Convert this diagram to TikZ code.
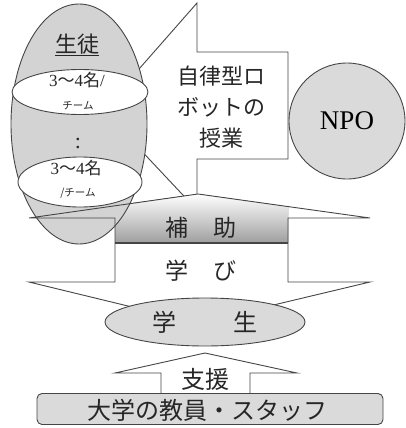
\documentclass[tikz,border=0pt]{standalone}
\usepackage{fontspec}
\usetikzlibrary{shapes.geometric}
\setmainfont{Liberation Serif}
\newfontfamily\jp{Noto Sans CJK JP}
\definecolor{ln}{HTML}{454545}
\definecolor{fillg}{HTML}{D3D3D3}
\definecolor{fillb}{HTML}{DADADA}
\tikzset{
  outl/.style={draw=ln, line width=0.9pt, line join=miter},
  jt/.style={font=\jp, inner sep=0pt, text=black!85},
}
\begin{document}
\begin{tikzpicture}[x=1pt,y=-1pt]
\useasboundingbox (0,0) rectangle (405,428);
% callout
\filldraw[outl, fill=white] (103,110) -- (197,3) -- (197,52) -- (288,52) -- (288,159) -- (197,159) -- (197,210) -- cycle;
\node[jt, font=\jp\fontsize{22}{31}\selectfont, align=center] (lesson) at (221,107) {自律型ロ\\ボットの\\授業};
% big double arrow: white fill
\fill[white] (29,218) -- (198,194) -- (370,218) -- (288,218) -- (288,282) -- (370,282) -- (198,323) -- (29,282) -- (115,282) -- (115,218) -- cycle;
% gradient band
\fill[top color=white, bottom color=black!38] (115,218) -- (115,205.6) -- (198,194) -- (288,206.6) -- (288,243) -- (115,243) -- cycle;
% egg
\filldraw[outl, fill=fillg] (79,124) ellipse [x radius=68, y radius=120];
\filldraw[outl, fill=white] (80,92) ellipse [x radius=68, y radius=22.5];
\filldraw[outl, fill=white] (80,182) ellipse [x radius=62, y radius=25];
\node[jt, font=\jp\fontsize{22}{22}\selectfont] (seito) at (77,45) {\underline{生徒}};
\node[jt, font=\fontsize{17}{17}\selectfont] (t1a) at (77,80) {3{\jp ～}4{\jp 名}/};
\node[jt, font=\jp\fontsize{10.5}{10.5}\selectfont] (t1b) at (78,106) {チーム};
\node[jt, font=\fontsize{22}{22}\selectfont] (dots) at (78,143) {:};
\node[jt, font=\fontsize{17}{17}\selectfont] (t2a) at (76,168) {3{\jp ～}4{\jp 名}};
\node[jt, font=\jp\fontsize{10.5}{10.5}\selectfont] (t2b) at (78,193) {/チーム};
% big arrow outline on top
\draw[outl] (29,218) -- (198,194) -- (370,218) -- (288,218) -- (288,282) -- (370,282) -- (198,323) -- (29,282) -- (115,282) -- (115,218) -- cycle;
\draw[ln, line width=2pt] (115,243) -- (288,243);
\node[jt, font=\jp\fontsize{23}{23}\selectfont] (hojo) at (201,228) {補\hspace{26pt}助};
\node[jt, font=\jp\fontsize{23}{23}\selectfont] (manabi) at (201,271) {学\hspace{25pt}び};
% NPO
\node[outl, fill=fillb, circle, minimum size=116pt, inner sep=0pt, font=\fontsize{27}{27}\selectfont] (npo) at (347,121) {NPO};
% gakusei
\node[outl, fill=fillb, ellipse, minimum width=200pt, minimum height=48pt, inner sep=0pt] (gakusei) at (205,322) {};
\node[jt, font=\jp\fontsize{24}{24}\selectfont] (gakuseit) at (gakusei) {学\hspace{58pt}生};
% support arrow
\filldraw[outl, fill=white] (161,394) -- (161,373) -- (115,373) -- (205,353) -- (297,373) -- (250,373) -- (250,394);
\node[jt, font=\jp\fontsize{24}{24}\selectfont] (shien) at (205,379) {支援};
% bottom box
\node[outl, fill=fillb, rounded corners=5pt, minimum width=346pt, minimum height=31pt, inner sep=0pt] (staff) at (210,409) {};
\node[jt, font=\jp\fontsize{24}{24}\selectfont] (stafft) at (207,410) {大学の教員・スタッフ};
\end{tikzpicture}
\end{document}
